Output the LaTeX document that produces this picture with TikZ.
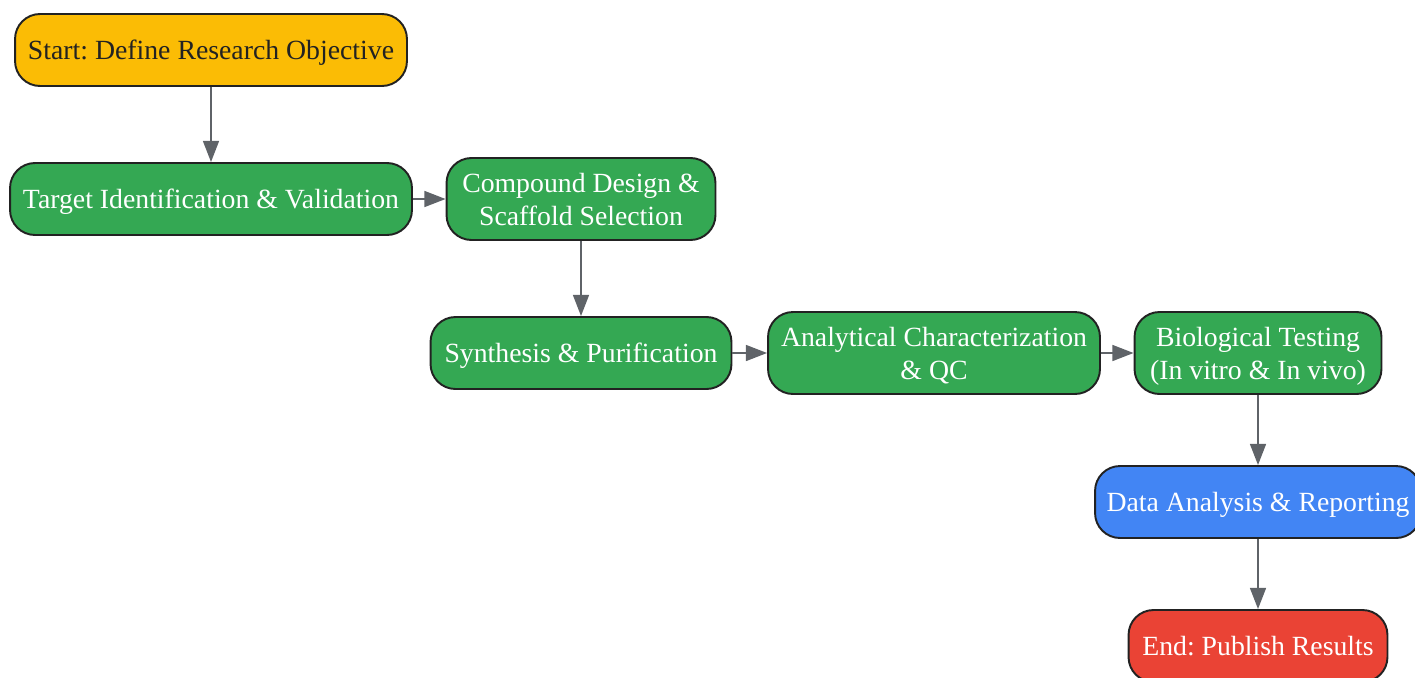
\documentclass[tikz,border=0pt]{standalone}
\usepackage{fontspec}
\setmainfont{Liberation Serif}
\usetikzlibrary{arrows.meta}
\definecolor{startyellow}{HTML}{FBBC05}
\definecolor{stepgreen}{HTML}{34A853}
\definecolor{datablue}{HTML}{4285F4}
\definecolor{endred}{HTML}{EA4335}
\definecolor{edgegray}{HTML}{5F6368}
\definecolor{framedark}{HTML}{222222}
\frenchspacing
\tikzset{
    box/.style={draw=framedark, line width=1.1pt, rounded corners=0.5cm, align=center,
        font=\fontsize{15.8pt}{18.7pt}\selectfont, text=white, inner sep=0pt, text depth=0pt},
    arr/.style={-{Triangle[length=12pt, width=9pt]}, draw=edgegray, fill=edgegray, line width=1.1pt}
}
\begin{document}
\begin{tikzpicture}[x=0.02cm, y=-0.02cm]
        \useasboundingbox (0, 0) rectangle (1415, 677);
        \node[box, fill=startyellow, text=framedark, minimum width=7.84cm, minimum height=1.44cm] (start) at (211, 50) {Start: Define Research Objective};
        \node[box, fill=stepgreen, minimum width=8.04cm, minimum height=1.44cm] (target) at (211, 199) {Target Identification \& Validation};
        \node[box, fill=stepgreen, minimum width=5.38cm, minimum height=1.64cm] (design) at (581, 199) {Compound Design \&\\Scaffold Selection};
        \node[box, fill=stepgreen, minimum width=6.02cm, minimum height=1.44cm] (synth) at (581, 353) {Synthesis \& Purification};
        \node[box, fill=stepgreen, minimum width=6.64cm, minimum height=1.64cm] (analyt) at (934, 353) {Analytical Characterization\\\& QC};
        \node[box, fill=stepgreen, minimum width=4.94cm, minimum height=1.64cm] (bio) at (1258, 353) {Biological Testing\\(In vitro \& In vivo)};
        \node[box, fill=datablue, minimum width=6.52cm, minimum height=1.44cm] (data) at (1258, 502) {Data Analysis \& Reporting};
        \node[box, fill=endred, minimum width=5.18cm, minimum height=1.44cm] (end) at (1258, 646) {End: Publish Results};
        \draw[arr] (start) -- (target);
        \draw[arr] (target) -- (design);
        \draw[arr] (design) -- (synth);
        \draw[arr] (synth) -- (analyt);
        \draw[arr] (analyt) -- (bio);
        \draw[arr] (bio) -- (data);
        \draw[arr] (data) -- (end);
    \end{tikzpicture}
\end{document}
